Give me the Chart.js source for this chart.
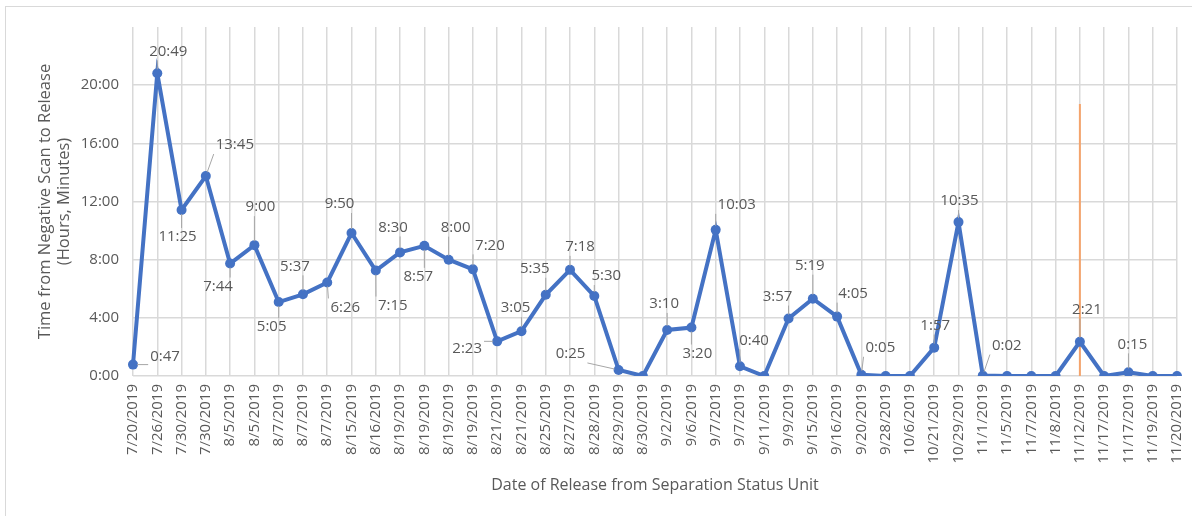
<!DOCTYPE html>
<html>
<head>
<meta charset="utf-8">
<script src="https://cdn.jsdelivr.net/npm/chart.js@4/dist/chart.umd.min.js"></script>
<style>
    html, body { margin: 0; padding: 0; background: #fff; }
    #wrap { position: relative; width: 1192px; height: 516px; overflow: hidden; }
    #frame { position: absolute; left: 5px; top: 6px; width: 1400px; height: 800px;
             border-left: 1px solid #d9d9d9; border-top: 1px solid #d9d9d9; }
    #timeChart { position: absolute; left: 0; top: 0; }
</style>
</head>
<body>
<div id="wrap">
    <div id="frame"></div>
    <canvas id="timeChart" width="1192" height="516"></canvas>
</div>
<script>
const releaseDates = [
    '7/20/2019', '7/26/2019', '7/30/2019', '7/30/2019', '8/5/2019', '8/5/2019',
    '8/7/2019', '8/7/2019', '8/7/2019', '8/15/2019', '8/16/2019', '8/19/2019',
    '8/19/2019', '8/19/2019', '8/19/2019', '8/21/2019', '8/21/2019', '8/25/2019',
    '8/27/2019', '8/28/2019', '8/29/2019', '8/30/2019', '9/2/2019', '9/6/2019',
    '9/7/2019', '9/7/2019', '9/11/2019', '9/9/2019', '9/15/2019', '9/16/2019',
    '9/20/2019', '9/28/2019', '10/6/2019', '10/21/2019', '10/29/2019', '11/1/2019',
    '11/5/2019', '11/7/2019', '11/8/2019', '11/12/2019', '11/17/2019', '11/17/2019',
    '11/19/2019', '11/20/2019'
];

// hours:minutes from negative scan to release
const releaseTimes = [
    '0:47', '20:49', '11:25', '13:45', '7:44', '9:00',
    '5:05', '5:37', '6:26', '9:50', '7:15', '8:30',
    '8:57', '8:00', '7:20', '2:23', '3:05', '5:35',
    '7:18', '5:30', '0:25', '0:00', '3:10', '3:20',
    '10:03', '0:40', '0:00', '3:57', '5:19', '4:05',
    '0:05', '0:00', '0:00', '1:57', '10:35', '0:02',
    '0:00', '0:00', '0:00', '2:21', '0:00', '0:15',
    '0:00', '0:00'
];

const yTicks = [0, 4, 8, 12, 16, 20];
const yMax = 24;

// orange marker line at 11/12/2019
const markerIndex = 39;
const markerTop = 18.7;

// where each value label sits relative to its point (px)
const labelOffsets = [
    [32, -8], [11, -22], [-4, 27], [29, -31], [-12, 23], [6, -38],
    [-7, 25], [-8, -28], [18, 25], [-12, -29], [17, 35], [-7, -25],
    [-6, 31], [7, -32], [17, -24], [-30, 7], [-6, -23], [-11, -26],
    [10, -23], [12, -20], [-48, -16], null, [-3, -26], [6, 26],
    [21, -25], [14, -26], null, [-11, -22], [-3, -33], [16, -23],
    [19, -27], null, null, [1, -22], [1, -21], [24, -30],
    null, null, null, [7, -32], null, [4, -28],
    null, null
];

const toHours = t => {
    const [h, m] = t.split(':').map(Number);
    return h + m / 60;
};
const hourValues = releaseTimes.map(toHours);

const FONT = "'Open Sans', sans-serif";
const GREY = '#595959';

const markerPlugin = {
    id: 'markerLine',
    beforeDatasetsDraw(chart) {
        const x = chart.scales.x.getPixelForValue(markerIndex);
        const y1 = chart.scales.y.getPixelForValue(markerTop);
        const y2 = chart.scales.y.getPixelForValue(0);
        const c = chart.ctx;
        c.save();
        c.strokeStyle = '#f4a46c';
        c.lineWidth = 2;
        c.beginPath();
        c.moveTo(x, y1);
        c.lineTo(x, y2);
        c.stroke();
        c.restore();
    }
};

const valueLabelPlugin = {
    id: 'valueLabels',
    afterDatasetsDraw(chart) {
        const c = chart.ctx;
        const meta = chart.getDatasetMeta(0);
        c.save();
        c.font = '15px ' + FONT;
        c.textAlign = 'center';
        c.textBaseline = 'middle';
        meta.data.forEach((pt, i) => {
            const off = labelOffsets[i];
            if (!off) return;
            const text = releaseTimes[i];
            const lx = pt.x + off[0];
            const ly = pt.y + off[1];
            const hw = c.measureText(text).width / 2 + 2;
            const hh = 9;
            const nx = Math.min(Math.max(pt.x, lx - hw), lx + hw);
            const ny = Math.min(Math.max(pt.y, ly - hh), ly + hh);
            const dist = Math.hypot(nx - pt.x, ny - pt.y);
            if (dist > 8) {
                c.strokeStyle = '#a6a6a6';
                c.lineWidth = 1;
                c.beginPath();
                c.moveTo(pt.x + (nx - pt.x) * 4 / dist, pt.y + (ny - pt.y) * 4 / dist);
                c.lineTo(nx, ny);
                c.stroke();
            }
            c.fillStyle = GREY;
            c.fillText(text, lx, ly);
        });
        c.restore();
    }
};

new Chart(document.getElementById('timeChart'), {
    type: 'line',
    data: {
        labels: releaseDates,
        datasets: [{
            data: hourValues,
            borderColor: '#4472c4',
            backgroundColor: '#4472c4',
            borderWidth: 4,
            pointRadius: 5,
            pointHoverRadius: 5,
            pointBackgroundColor: '#4472c4',
            pointBorderWidth: 0,
            tension: 0,
        }]
    },
    options: {
        responsive: false,
        animation: false,
        layout: {
            padding: { top: 27, right: 15, bottom: 17, left: 35 }
        },
        plugins: {
            legend: { display: false },
            tooltip: { enabled: false }
        },
        scales: {
            y: {
                min: 0,
                max: yMax,
                afterBuildTicks: scale => {
                    scale.ticks = yTicks.concat([yMax]).map(v => ({ value: v }));
                },
                afterFit: scale => { scale.width = 98; },
                ticks: {
                    color: GREY,
                    font: { family: FONT, size: 15 },
                    padding: 14,
                    callback: v => v >= yMax ? '' : v + ':00'
                },
                grid: {
                    drawTicks: false,
                    color: ctx => ctx.tick && ctx.tick.value >= yMax ? 'rgba(0,0,0,0)' : '#d9d9d9',
                    lineWidth: 1.5
                },
                border: { display: false },
                title: {
                    display: true,
                    text: ['Time from Negative Scan to Release', '(Hours, Minutes)'],
                    color: GREY,
                    font: { family: FONT, size: 16.5 },
                    padding: { top: 0, bottom: 4 }
                }
            },
            x: {
                afterFit: scale => {
                    scale.height = 123;
                    scale.paddingLeft = 0;
                    scale.paddingRight = 0;
                },
                ticks: {
                    color: GREY,
                    font: { family: FONT, size: 15 },
                    minRotation: 90,
                    maxRotation: 90,
                    autoSkip: false,
                    padding: 8
                },
                grid: {
                    drawTicks: false,
                    color: '#d9d9d9',
                    lineWidth: 1.5
                },
                border: { display: false },
                title: {
                    display: true,
                    text: 'Date of Release from Separation Status Unit',
                    color: GREY,
                    font: { family: FONT, size: 16 },
                    padding: { top: 4, bottom: 4 }
                }
            }
        }
    },
    plugins: [markerPlugin, valueLabelPlugin]
});
</script>
</body>
</html>
